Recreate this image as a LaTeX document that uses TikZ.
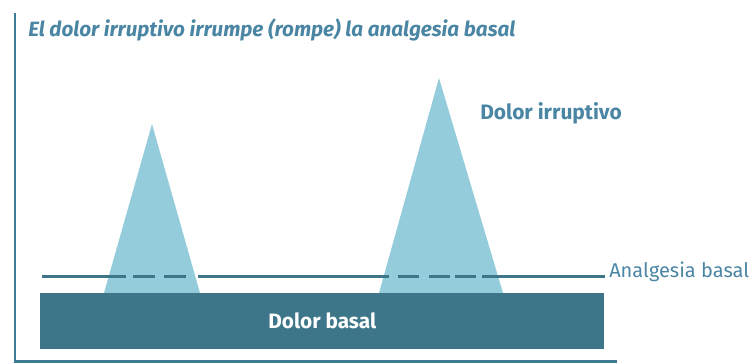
\documentclass[tikz,border=0pt]{standalone}
\usepackage{fontspec}
\setmainfont{Fira Sans}
\usetikzlibrary{positioning}

\definecolor{axisblue}{HTML}{3E7C96}
\definecolor{basalblue}{HTML}{3D7689}
\definecolor{peakblue}{HTML}{95CCDB}
\definecolor{textblue}{HTML}{4A86A4}

\tikzset{
	peak/.style={fill=peakblue, draw=none},
	analg/.style={draw=basalblue, line width=2.3pt},
	lbl/.style={font=\bfseries\fontsize{15.7}{18}\selectfont, text=textblue, inner sep=0pt}
}

\begin{document}
\begin{tikzpicture}[x=0.75pt, y=-0.75pt]
			\useasboundingbox (0,0) rectangle (753,363);
			% ejes
			\draw[axisblue, line width=1.6pt] (15,13) -- (15,361.5) -- (617,361.5);
			\node[lbl, anchor=base west, font=\bfseries\itshape\fontsize{15.5}{18}\selectfont] (titulo) at (28,37) {El dolor irruptivo irrumpe (rompe) la analgesia basal};
			% picos
			\fill[peak] (104,293) -- (152,124) -- (200,293) -- cycle;
			\fill[peak] (379,293) -- (439,78) -- (503,293) -- cycle;
			% dolor basal
			\node[fill=basalblue, minimum width=564*0.75pt, minimum height=56*0.75pt, inner sep=0pt, anchor=north west,
				text=white, font=\bfseries\fontsize{15.6}{18}\selectfont] (basal) at (40,293) {Dolor basal};
			% analgesia basal
			\node[lbl, anchor=west, font=\fontsize{15}{18}\selectfont] (analgesia) at (609,272) {Analgesia basal};
			\foreach \xa/\xb in {42/126, 133/155, 164/186, 198/389, 398/419, 429/450, 455/476, 482/605}
				\draw[analg] (\xa,276.5) -- (\xb,276.5);
			\node[lbl, anchor=west] (irruptivo) at (480,113) {Dolor irruptivo};
		\end{tikzpicture}
\end{document}
